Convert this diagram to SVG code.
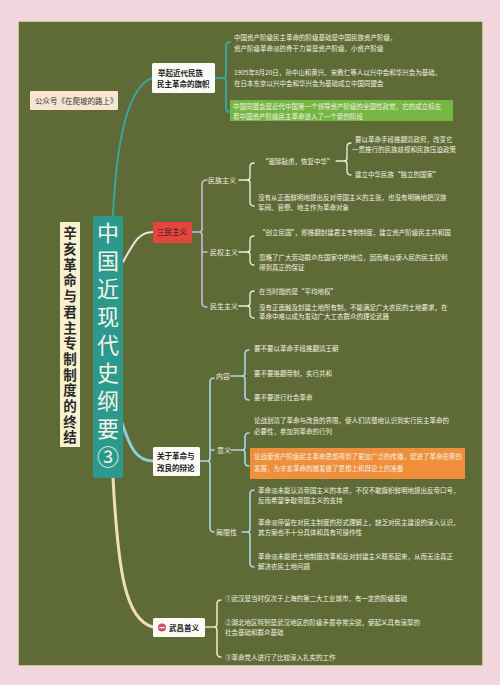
<svg xmlns="http://www.w3.org/2000/svg" width="500" height="685" viewBox="0 0 500 685">
<style>
.t{font-family:"Noto Sans CJK SC","Liberation Sans",sans-serif;font-size:6.5px;fill:#f4efe2}
.lb{font-family:"Noto Sans CJK SC","Liberation Sans",sans-serif;font-size:7px;fill:#f4efe2}
.nd{font-family:"Noto Sans CJK SC","Liberation Sans",sans-serif;font-size:7.5px;fill:#222;font-weight:bold}
.tt{font-family:"Noto Sans CJK SC","Liberation Sans",sans-serif;font-size:22px;fill:#f6f2e8;writing-mode:vertical-rl;letter-spacing:6px}
.st{font-family:"Noto Sans CJK SC","Liberation Sans",sans-serif;font-size:13.5px;fill:#2a2a2a;font-weight:bold;writing-mode:vertical-rl;letter-spacing:2.2px}
.c{fill:none;stroke-linecap:round;stroke-linejoin:round}
.teal{stroke:#3aa69a;stroke-width:2}
.lav{stroke:#cdb9dd;stroke-width:1.6}
.wh{stroke:#f2eee8;stroke-width:1.3}
.blu{stroke:#a9d9e6;stroke-width:1.6}
.crm{stroke:#f1dfbd;stroke-width:1.6}
</style>
<rect width="500" height="685" fill="#f3d6dd"/>
<rect x="18" y="21" width="465" height="645" fill="#5f6b37" stroke="#eadbc2" stroke-width="1.5"/>

<g id="connectors">
<path class="c teal" stroke-width="3" d="M113,216 C116,150 126,88 152,78"/>
<path class="c teal" d="M215,78 H223 M230,42 Q226,42 226,46 L226,75 Q226,78 223,78 Q226,78 226,81 L226,108 Q226,112 230,112"/>
<path class="c" stroke="#ece4dc" stroke-width="2" d="M123,262 C135,240 140,232 153,232"/>
<path class="c lav" d="M192,232 H199 M207,180 Q202,180 202,184 L202,229 Q202,232 199,232 Q202,232 202,235 L202,303 Q202,307 207,307 M202,252 H207"/>
<path class="c wh" d="M239,180 H247 M254,163 Q250,163 250,167 L250,177 Q250,180 247,180 Q250,180 250,183 L250,202 Q250,206 254,206"/>
<path class="c wh" d="M336,161 H344 M351,143 Q347,143 347,147 L347,158 Q347,161 344,161 Q347,161 347,164 L347,171 Q347,175 351,175"/>
<path class="c wh" d="M239,252 H247 M254,236 Q250,236 250,240 L250,249 Q250,252 247,252 Q250,252 250,255 L250,261 Q250,265 254,265"/>
<path class="c wh" d="M239,306 H247 M254,291 Q250,291 250,295 L250,303 Q250,306 247,306 Q250,306 250,309 L250,314 Q250,318 254,318"/>
<path class="c" stroke="#8fd0d8" stroke-width="3" d="M122,423 C130,447 136,461 153,461"/>
<path class="c blu" d="M200,461 H207 M214,378 Q210,378 210,382 L210,458 Q210,461 207,461 Q210,461 210,464 L210,528 Q210,532 214,532 M210,450 H214"/>
<path class="c blu" d="M231,376 H242 M249,350 Q245,350 245,354 L245,373 Q245,376 242,376 Q245,376 245,379 L245,396 Q245,400 249,400"/>
<path class="c blu" d="M231,450 H242 M249,433 Q245,433 245,437 L245,447 Q245,450 242,450 Q245,450 245,453 L245,462 Q245,466 249,466"/>
<path class="c blu" d="M242,532 H247 M254,490 Q250,490 250,494 L250,529 Q250,532 247,532 Q250,532 250,535 L250,563 Q250,567 254,567"/>
<path class="c" stroke="#f3dcbc" stroke-width="3" d="M113,478 C118,570 125,620 153,627"/>
<path class="c crm" d="M205,627 H214 M221,600 Q217,600 217,604 L217,624 Q217,627 214,627 Q217,627 217,630 L217,653 Q217,657 221,657"/>
</g>

<g id="wechat">
<rect x="30" y="91" width="88" height="19" fill="#f7e7d2" rx="1"/>
<text x="35" y="103.5" style="font-family:'Noto Sans CJK SC',sans-serif;font-size:7.5px;fill:#333">公众号《在爬坡的路上》</text>
</g>

<g id="subtitle">
<rect x="60" y="222" width="20" height="225" fill="#f8f1d2"/>
<text class="st" x="70" y="226.5">辛亥革命与君主专制制度的终结</text>
</g>

<g id="title">
<rect x="93" y="216" width="30" height="262" fill="#2b9a8c" rx="2"/>
<text class="tt" x="108" y="222">中国近现代史纲要③</text>
</g>

<g id="node-flag">
<rect x="152" y="63" width="63" height="30" fill="#fbfaf6" rx="1.5"/>
<text class="nd" x="158" y="75.5">举起近代民族</text>
<text class="nd" x="157" y="87">民主革命的旗帜</text>
</g>
<g id="flag-details">
<text class="t" x="234" y="39.5">中国资产阶级民主革命的阶级基础是中国民族资产阶级，</text>
<text class="t" x="234" y="50.5">资产阶级革命派的骨干力量是资产阶级、小资产阶级</text>
<text class="t" x="234" y="74.5">1905年8月20日，孙中山和黄兴、宋教仁等人以兴中会和华兴会为基础，</text>
<text class="t" x="234" y="85.5">在日本东京以兴中会和华兴会为基础成立中国同盟会</text>
<rect x="230" y="100" width="223" height="21" fill="#74b843"/>
<text class="t" x="233" y="108.5">中国同盟会是近代中国第一个领导资产阶级的全国性政党，它的成立标志</text>
<text class="t" x="233" y="118.5">着中国资产阶级民主革命进入了一个新的阶段</text>
</g>

<g id="node-sanmin">
<rect x="153" y="222" width="39" height="21" fill="#e2463f"/>
<text x="157" y="235" style="font-family:'Noto Sans CJK SC',sans-serif;font-size:7.5px;fill:#2a1a1a">三民主义</text>
</g>
<g id="minzu">
<text class="lb" x="208" y="182.5">民族主义</text>
<text class="t" x="262" y="163.5">“驱除鞑虏，恢复中华”</text>
<text class="t" x="355" y="141.5">要以革命手段推翻清政府，改变它</text>
<text class="t" x="352" y="151.5">一贯推行的民族歧视和民族压迫政策</text>
<text class="t" x="355" y="177">建立中华民族“独立的国家”</text>
<text class="t" x="258" y="199.5">没有从正面鲜明地提出反对帝国主义的主张，也没有明确地把汉族</text>
<text class="t" x="258" y="209.5">军阀、官僚、地主作为革命对象</text>
</g>
<g id="minquan">
<text class="lb" x="210" y="254.5">民权主义</text>
<text class="t" x="259" y="234.5">“创立民国”，即推翻封建君主专制制度，建立资产阶级民主共和国</text>
<text class="t" x="259" y="259.5">忽略了广大劳动群众在国家中的地位，因而难以使人民的民主权利</text>
<text class="t" x="259" y="269.5">得到真正的保证</text>
</g>
<g id="minsheng">
<text class="lb" x="210" y="308.5">民生主义</text>
<text class="t" x="259" y="294">在当时指的是“平均地权”</text>
<text class="t" x="259" y="309.5">没有正面触及封建土地所有制，不能满足广大农民的土地要求，在</text>
<text class="t" x="259" y="319">革命中难以成为发动广大工农群众的理论武器</text>
</g>

<g id="node-debate">
<rect x="153" y="447" width="47" height="29" fill="#fbfaf6" rx="1.5"/>
<text class="nd" x="157" y="459">关于革命与</text>
<text class="nd" x="157" y="470.5">改良的辩论</text>
</g>
<g id="neirong">
<text class="lb" x="216" y="378.5">内容</text>
<text class="t" x="254" y="351">要不要以革命手段推翻清王朝</text>
<text class="t" x="254" y="375.5">要不要推翻帝制，实行共和</text>
<text class="t" x="254" y="399.5">要不要进行社会革命</text>
</g>
<g id="yiyi">
<text class="lb" x="217" y="452.5">意义</text>
<text class="t" x="254" y="423">论战划清了革命与改良的界限，使人们清楚地认识到实行民主革命的</text>
<text class="t" x="254" y="433.5">必要性，参加到革命的行列</text>
<rect x="250" y="448" width="215" height="31" fill="#ef8f3c"/>
<text class="t" x="254" y="459">论战使资产阶级民主革命思想得到了更加广泛的传播，促进了革命形势的</text>
<text class="t" x="254" y="471">发展，为辛亥革命的爆发做了思想上和舆论上的准备</text>
</g>
<g id="juxian">
<text class="lb" x="216" y="534.5">局限性</text>
<text class="t" x="258" y="492.5">革命派未能认清帝国主义的本质，不仅不敢旗帜鲜明地提出反帝口号，</text>
<text class="t" x="258" y="502.5">反而希望争取帝国主义的支持</text>
<text class="t" x="258" y="524.5">革命派停留在对民主制度的形式理解上，缺乏对民主建设的深入认识，</text>
<text class="t" x="258" y="534.5">其方案也不十分具体和具有可操作性</text>
<text class="t" x="258" y="559">革命派未能把土地制度改革和反对封建主义联系起来，从而无法真正</text>
<text class="t" x="258" y="569">解决农民土地问题</text>
</g>

<g id="node-wuchang">
<rect x="153" y="618" width="52" height="19" fill="#fbfaf6" rx="1.5"/>
<circle cx="162" cy="627.5" r="4" fill="#d0506a"/>
<rect x="159.5" y="627" width="5" height="1.2" fill="#fff"/>
<text class="nd" x="169" y="630.5">武昌首义</text>
</g>
<g id="wuchang-details">
<text class="t" x="225" y="600.5">①武汉是当时仅次于上海的第二大工业城市，有一定的阶级基础</text>
<text class="t" x="225" y="624.5">②湖北地区特别是武汉地区的阶级矛盾非常尖锐，使起义具有深厚的</text>
<text class="t" x="225" y="635">社会基础和群众基础</text>
<text class="t" x="225" y="659.5">③革命党人进行了比较深入扎实的工作</text>
</g>
</svg>
